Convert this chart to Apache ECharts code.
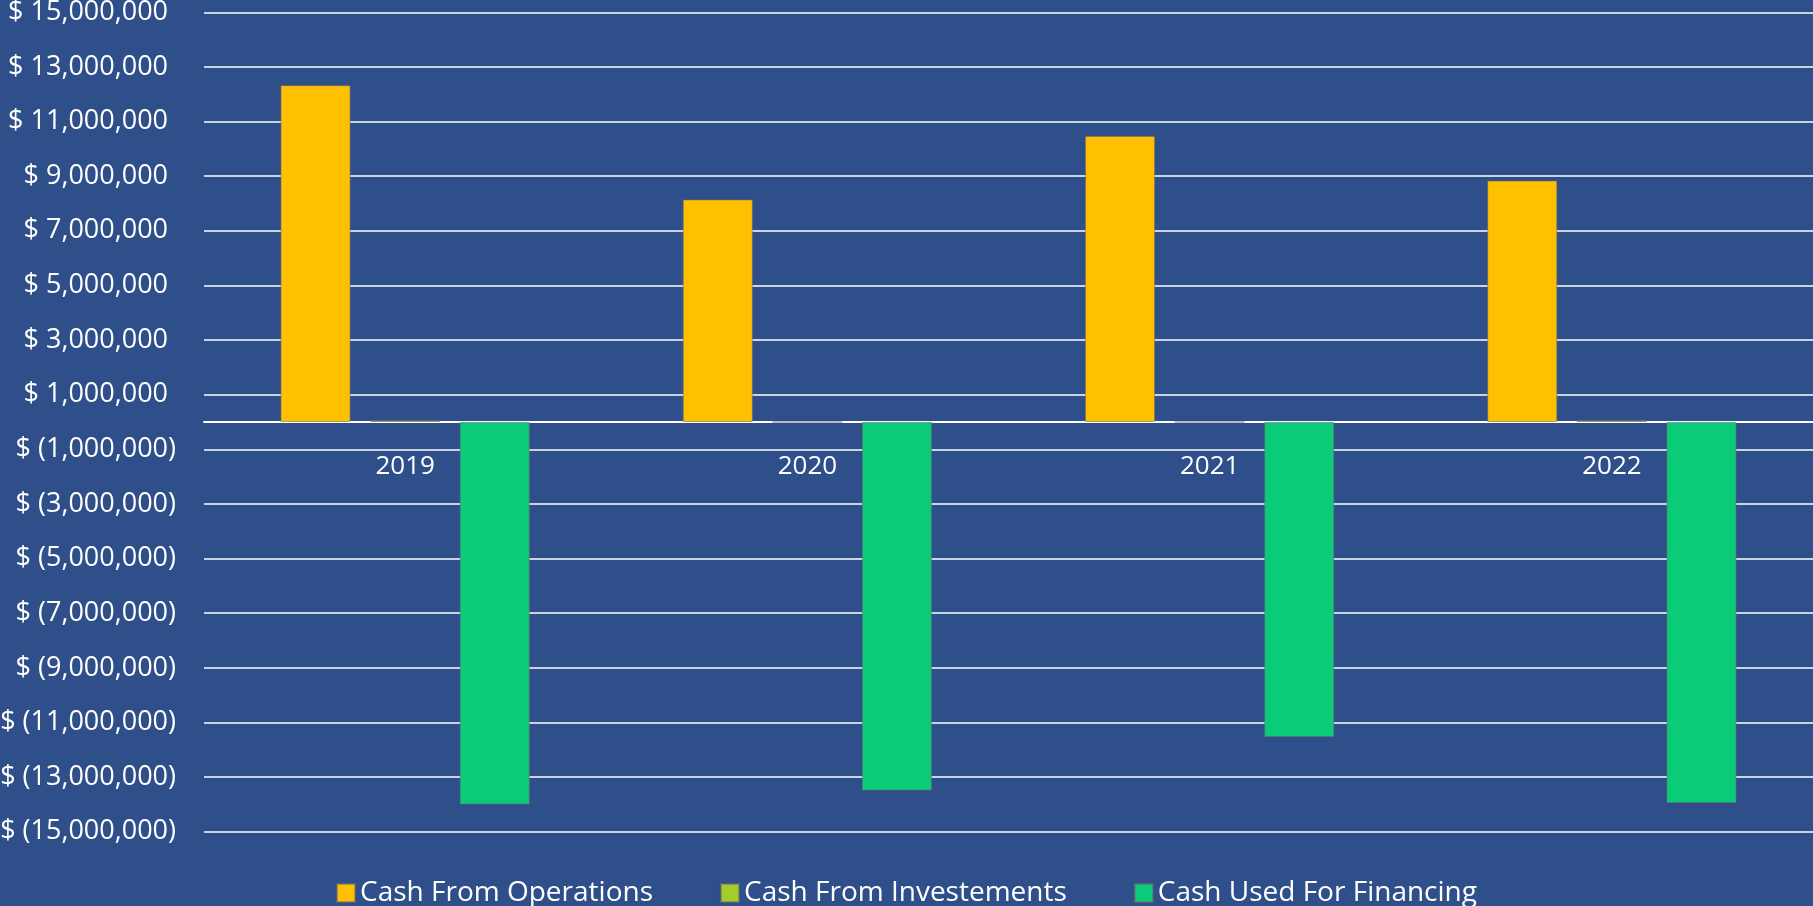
<!DOCTYPE html>
<html>
<head>
<meta charset="utf-8">
<title>Cash Flow</title>
<script src="https://cdn.jsdelivr.net/npm/echarts@6/dist/echarts.min.js"></script>
<style>
  html, body { margin: 0; padding: 0; background: #2F4F8A; }
  #main { width: 1813px; height: 906px; }
</style>
</head>
<body>
<div id="main"></div>
<script>
var years = ['2019', '2020', '2021', '2022'];
var cashOps = [12330000, 8150000, 10470000, 8840000];
var cashInv = [60000, 0, 0, 60000];
var cashFin = [-14000000, -13490000, -11530000, -13950000];
var seriesNames = ['Cash From Operations', 'Cash From Investements', 'Cash Used For Financing'];
var seriesColors = ['#FFC000', '#A5CD28', '#0ACB78'];
var yMin = -15000000, yMax = 15000000, yStep = 2000000;

var font = 'Open Sans';
var gridTop = 12.3, gridBottom = 74.3, chartH = 906;

function money(v) {
  var n = Math.abs(v).toLocaleString('en-US');
  if (v < 0) return '{p|$ (' + n + ')}';
  return '{p|$ ' + n + '}{h|)}';
}

var chartDom = document.getElementById('main');
var myChart = echarts.init(chartDom);
var option;

// the category axis sits on the zero line: lift it from the grid bottom
var plotH = chartH - gridTop - gridBottom;
var zeroLift = plotH * (0 - yMin) / (yMax - yMin);

var bars = [cashOps, cashInv, cashFin].map(function (d, i) {
  return {
    name: seriesNames[i],
    type: 'bar',
    data: d,
    barWidth: 70,
    barGap: '28%',
    itemStyle: {
      color: seriesColors[i],
      borderColor: 'rgba(110,110,110,0.55)',
      borderWidth: 1
    }
  };
});

option = {
  backgroundColor: '#2F4F8A',
  animation: false,
  color: seriesColors,
  grid: {
    left: 204, right: 0, top: gridTop, bottom: gridBottom,
    containLabel: false,
    outerBoundsMode: 'none'
  },
  legend: {
    bottom: -7,
    left: 'center',
    itemWidth: 18,
    itemHeight: 18,
    itemGap: 67,
    icon: 'rect',
    data: seriesNames,
    textStyle: { color: '#ffffff', fontFamily: font, fontSize: 28, lineHeight: 30 }
  },
  xAxis: {
    type: 'category',
    data: years,
    offset: -zeroLift,
    axisLine: { onZero: false, lineStyle: { color: '#ffffff', width: 2 } },
    axisTick: { show: false },
    axisLabel: { color: '#ffffff', fontFamily: font, fontSize: 26, margin: 32 }
  },
  yAxis: {
    type: 'value',
    min: yMin,
    max: yMax,
    interval: yStep,
    axisLine: { show: false },
    axisTick: { show: false },
    splitLine: { lineStyle: { color: '#ffffff', width: 1.5 } },
    axisLabel: {
      margin: 28,
      formatter: money,
      rich: {
        p: { color: '#ffffff', fontFamily: font, fontSize: 27 },
        h: { color: 'transparent', fontFamily: font, fontSize: 27 }
      }
    }
  },
  series: bars
};

option && myChart.setOption(option);
</script>
</body>
</html>
